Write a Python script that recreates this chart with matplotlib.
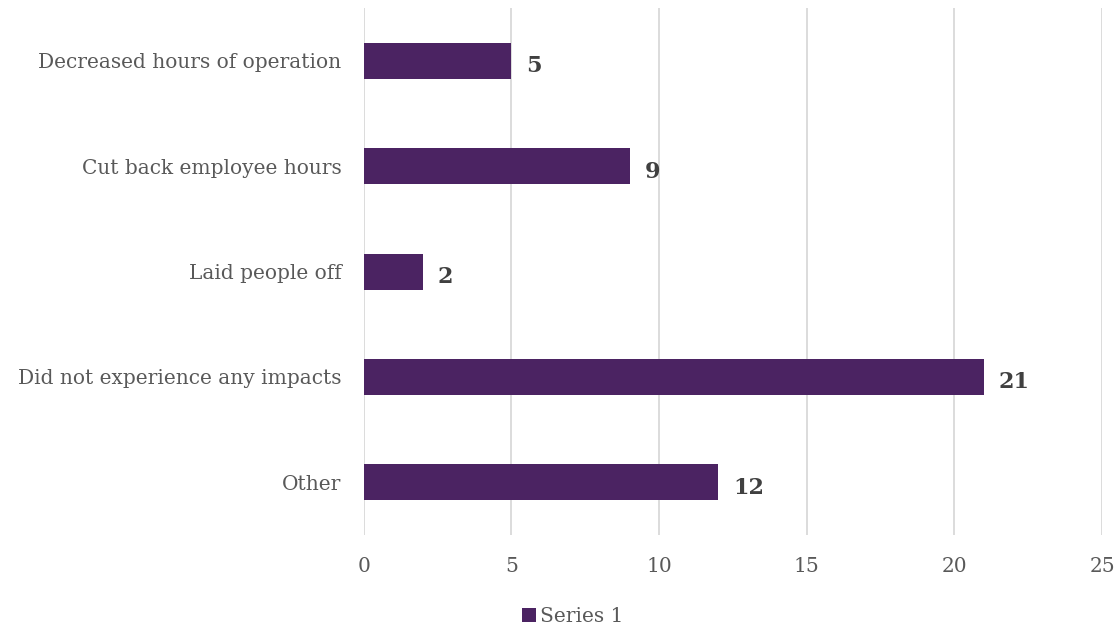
import matplotlib.pyplot as plt
import numpy as np

# survey responses, top to bottom
categories = ['Decreased hours of operation', 'Cut back employee hours',
              'Laid people off', 'Did not experience any impacts', 'Other']
counts = [5, 9, 2, 21, 12]
xticks = [0, 5, 10, 15, 20, 25]

bar_color = '#4B2362'
text_color = '#595959'
plt.rcParams['font.family'] = ['DejaVu Serif']

fig = plt.figure(figsize=(11.16, 6.28), dpi=100)
ax = fig.add_axes([0.326, 0.148, 0.6615, 0.839])

y = np.arange(len(categories))
bars = ax.barh(y, counts, height=0.34, color=bar_color, label='Series 1', zorder=3)

for rect, v in zip(bars, counts):
    ax.text(rect.get_width() + 0.5, rect.get_y() + rect.get_height() / 2 + 0.05, str(v),
            va='center', ha='left', fontsize=16, fontweight='bold', color='#404040')

ax.set_ylim(len(categories) - 0.5, -0.5)
ax.set_xlim(0, 25)
ax.set_xticks(xticks)
ax.set_yticks(y)
ax.set_yticklabels(categories)

ax.grid(axis='x', color='#D9D9D9', linewidth=1.3, zorder=0)
for s in ax.spines.values():
    s.set_visible(False)
ax.tick_params(axis='both', length=0, labelsize=14.5, colors=text_color)
ax.tick_params(axis='y', pad=16)
ax.tick_params(axis='x', pad=16)

ax.legend(loc='center', bbox_to_anchor=(0.283, -0.155),
          frameon=False, fontsize=14.5, labelcolor=text_color,
          handlelength=0.7, handleheight=0.7, handletextpad=0.2)

fig.savefig('out.png', dpi=100)
